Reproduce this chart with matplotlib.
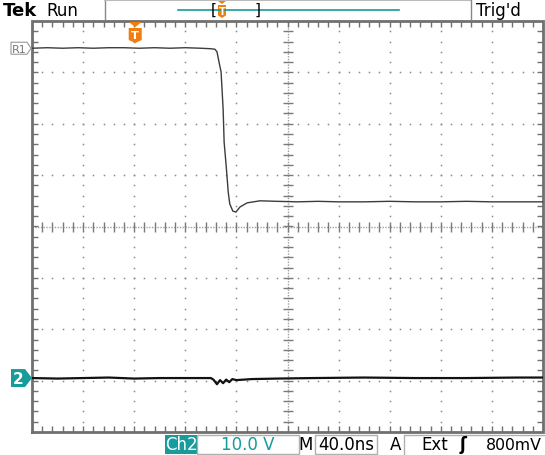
import numpy as np
import matplotlib
matplotlib.use("Agg")
import matplotlib.pyplot as plt
from matplotlib.patches import Polygon, Rectangle

W, H = 545, 456

# ---- data (time in divisions, voltage in divisions) ----
ch1_t = [0.0, 0.3, 0.6, 0.9, 1.2, 1.5, 1.8, 2.1, 2.4, 2.7, 3.0, 3.3, 3.5, 3.58,
         3.62, 3.66, 3.70, 3.74, 3.76, 3.80, 3.84, 3.87, 3.93, 3.99, 4.07, 4.21,
         4.46, 4.8, 5.2, 5.6, 6.0, 6.5, 7.0, 7.5, 8.0, 8.5, 9.0, 9.5, 10.0]
ch1_v = [3.47, 3.48, 3.47, 3.48, 3.47, 3.48, 3.48, 3.47, 3.48, 3.47, 3.48, 3.47,
         3.46, 3.45, 3.40, 3.20, 3.01, 2.29, 1.64, 1.18, 0.67, 0.44, 0.30, 0.28,
         0.38, 0.46, 0.50, 0.49, 0.48, 0.49, 0.48, 0.48, 0.49, 0.48, 0.48, 0.49,
         0.48, 0.48, 0.48]
ch2_t = [0.0, 0.5, 1.0, 1.5, 2.0, 2.5, 3.0, 3.5, 3.55, 3.62, 3.68, 3.74, 3.80,
         3.86, 3.92, 4.0, 4.3, 4.8, 5.5, 6.5, 7.5, 8.5, 9.5, 10.0]
ch2_v = [-2.95, -2.96, -2.95, -2.94, -2.96, -2.95, -2.95, -2.95, -2.98, -3.07,
         -2.99, -3.05, -2.98, -3.03, -2.97, -2.99, -2.97, -2.96, -2.95, -2.94,
         -2.95, -2.95, -2.94, -2.94]
ch1_ref = 3.47
ch2_ref = -2.95
trig_pos = 2.02
n_xdiv, n_ydiv = 10, 8

brand, run_state, trig_state = "Tek", "Run", "Trig'd"
ch_label, ch_scale = "Ch2", "10.0 V"
tb_label, timebase = "M", "40.0ns"
trig_mode, trig_src, trig_slope, trig_level = "A", "Ext", "ʃ", "800mV"

TEAL = "#189b9b"
ORANGE = "#f27d0c"
GRID = "#8a8a8a"
FRAME = "#707070"
FONT = "DejaVu Sans"

fig = plt.figure(figsize=(W / 100, H / 100), dpi=100)
fig.patch.set_facecolor("white")

L, R, T, B = 32, 543, 22, 433
ax = fig.add_axes([L / W, 1 - B / H, (R - L) / W, (B - T) / H])
ax.set_xlim(0, n_xdiv)
ax.set_ylim(-n_ydiv / 2, n_ydiv / 2)
ax.axis("off")

# graticule dotted lines
ys = np.arange(-4, 4.001, 0.2)
xs = np.arange(0, 10.001, 0.2)
for xi in range(1, n_xdiv):
    if xi == 5:
        continue
    ax.plot([xi] * len(ys), ys, ls="none", marker="s", ms=1.1, mew=0, color=GRID)
for yi in range(-3, 4):
    if yi == 0:
        continue
    ax.plot(xs, [yi] * len(xs), ls="none", marker="s", ms=1.1, mew=0, color=GRID)

# center cross
ax.plot([0, 10], [0, 0], ls=(0, (1, 1)), lw=1, color="#a0a0a0")
ax.plot([5, 5], [-4, 4], ls=(0, (1, 1)), lw=1, color="#a0a0a0")
ax.plot(xs[1:-1], [0] * (len(xs) - 2), ls="none", marker="|", ms=7, mew=1, color="#7a7a7a")
ax.plot([5] * (len(ys) - 2), ys[1:-1], ls="none", marker="_", ms=7, mew=1, color="#7a7a7a")

# edge ticks
ax.plot(xs[1:-1], [4] * (len(xs) - 2), ls="none", marker=3, ms=4, mew=1, color=FRAME, clip_on=False)
ax.plot(xs[1:-1], [-4] * (len(xs) - 2), ls="none", marker=2, ms=4, mew=1, color=FRAME, clip_on=False)
ax.plot([0] * (len(ys) - 2), ys[1:-1], ls="none", marker=1, ms=4, mew=1, color=FRAME, clip_on=False)
ax.plot([10] * (len(ys) - 2), ys[1:-1], ls="none", marker=0, ms=4, mew=1, color=FRAME, clip_on=False)

# frame
ax.plot([0, 10, 10, 0, 0], [-4, -4, 4, 4, -4], color=FRAME, lw=2, clip_on=False,
        solid_joinstyle="miter")

# traces
ax.plot(ch1_t, ch1_v, color="#3c3c3c", lw=1.0, zorder=5)
ax.plot(ch2_t, ch2_v, color="#111111", lw=1.6, zorder=5)

# ---- overlay in pixel coordinates ----
ov = fig.add_axes([0, 0, 1, 1], facecolor="none")
ov.set_xlim(0, W)
ov.set_ylim(H, 0)
ov.axis("off")

def px_y(v):
    return (T + B) / 2 - v * (B - T) / n_ydiv

def px_x(t):
    return L + t * (R - L) / n_xdiv

def shield(cx, top, w, h, tip):
    ov.add_patch(Polygon([[cx - w / 2, top], [cx + w / 2, top], [cx, top + tip]],
                         closed=True, color=ORANGE, lw=0))
    y0 = top + tip + 1
    ov.add_patch(Polygon([[cx - w / 2, y0], [cx + w / 2, y0], [cx + w / 2, y0 + h * 0.8],
                          [cx, y0 + h], [cx - w / 2, y0 + h * 0.8]],
                         closed=True, color=ORANGE, lw=0))
    ov.text(cx, y0 + h * 0.45, "T", color="white", fontsize=h * 0.55, fontweight="bold",
            ha="center", va="center", family=FONT)

# top bar
ov.text(3, 16, brand, fontsize=13, fontweight="bold", family=FONT, va="baseline")
ov.text(46, 16, run_state, fontsize=12, family=FONT, va="baseline")
ov.plot([105, 105], [0, 20], color="#888", lw=1)
ov.plot([105, 471], [0.8, 0.8], color="#bbb", lw=1.5)
ov.plot([471, 471], [0, 20], color="#888", lw=1)
ov.text(476, 16, trig_state, fontsize=12, family=FONT, va="baseline")
ov.plot([178, 399], [10.5, 10.5], color=TEAL, lw=1.2)
ov.text(214, 10.5, "[", fontsize=11, family=FONT, ha="center", va="center")
ov.text(258, 10.5, "]", fontsize=11, family=FONT, ha="center", va="center")
shield(222, 2, 8, 13, 3)

# trigger position marker in graticule
shield(px_x(trig_pos), T + 1, 13, 15, 5)

# R1 reference label
ry = px_y(ch1_ref)
ov.add_patch(Polygon([[11, ry - 6], [27, ry - 6], [31, ry], [27, ry + 6], [11, ry + 6]],
                     closed=True, fill=False, ec="#9a9a9a", lw=0.8))
ov.text(19, ry + 0.5, "R1", fontsize=8, color="#7a7a7a", family=FONT, ha="center", va="center")

# Ch2 marker
cy = px_y(ch2_ref)
ov.add_patch(Polygon([[11, cy - 9], [25, cy - 9], [32, cy], [25, cy + 9], [11, cy + 9]],
                     closed=True, color=TEAL, lw=0))
ov.text(18, cy + 0.5, "2", fontsize=11, color="white", fontweight="bold", family=FONT,
        ha="center", va="center")

# bottom readout
by = 450
ov.add_patch(Rectangle((165, 436), 32, 19, color=TEAL, lw=0))
ov.text(181, by, ch_label, fontsize=12, color="white", family=FONT, ha="center", va="baseline")
ov.add_patch(Rectangle((197, 436), 102, 19, fill=False, ec="#b0b0b0", lw=1))
ov.text(248, by, ch_scale, fontsize=12, color=TEAL, family=FONT, ha="center", va="baseline")
ov.text(306, by, tb_label, fontsize=12, family=FONT, ha="center", va="baseline")
ov.add_patch(Rectangle((315, 436), 62, 19, fill=False, ec="#b0b0b0", lw=1))
ov.text(346, by, timebase, fontsize=12, family=FONT, ha="center", va="baseline")
ov.text(396, by, trig_mode, fontsize=12, family=FONT, ha="center", va="baseline")
ov.plot([404, 404, 545], [456, 436, 436], color="#b0b0b0", lw=1)
ov.text(421, by, trig_src, fontsize=12, family=FONT, va="baseline")
ov.text(460, by, trig_slope, fontsize=12, family=FONT, fontweight="bold", va="baseline")
ov.text(542, by, trig_level, fontsize=11.3, family=FONT, ha="right", va="baseline")

fig.savefig("out.png", dpi=100, facecolor="white")
